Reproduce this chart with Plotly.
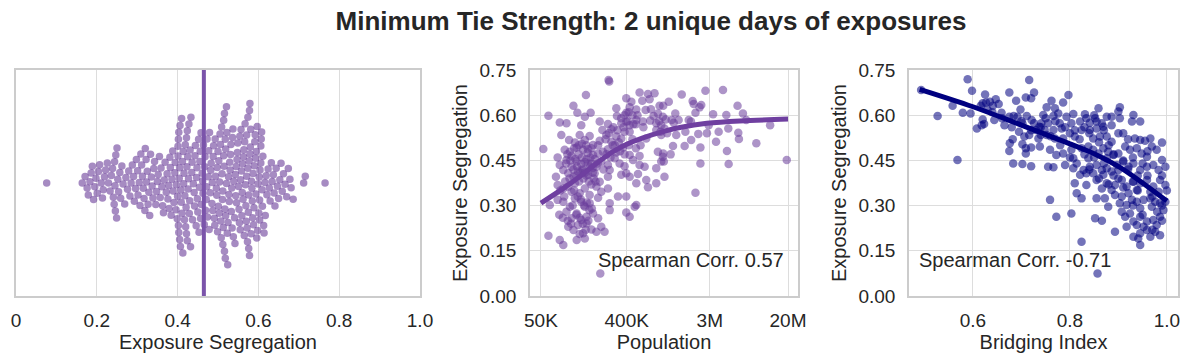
import numpy as np
import plotly.graph_objects as go

# Exposure segregation per city (left swarm panel)
SWARM_SEG = [
    0.076,
    0.164, 0.171, 0.176, 0.179,
    0.183, 0.186, 0.189, 0.192, 0.195, 0.198,
    0.201, 0.204, 0.207, 0.211, 0.214, 0.216, 0.219,
    0.222, 0.226, 0.229, 0.233, 0.236, 0.239,
    0.241, 0.243, 0.244, 0.245, 0.246, 0.247, 0.249, 0.250, 0.252, 0.254, 0.257, 0.259,
    0.262, 0.265, 0.269, 0.272, 0.276, 0.279,
    0.282, 0.285, 0.288, 0.291, 0.293, 0.296, 0.298,
    0.301, 0.302, 0.305, 0.307, 0.309, 0.311, 0.313, 0.315, 0.317, 0.319,
    0.320, 0.322, 0.323, 0.325, 0.327, 0.329, 0.331, 0.333, 0.335, 0.337, 0.339,
    0.341, 0.343, 0.346, 0.348, 0.350, 0.352, 0.355, 0.357, 0.359,
    0.361, 0.363, 0.365, 0.367, 0.369, 0.372, 0.374, 0.376, 0.378, 0.379,
    0.381, 0.382, 0.384, 0.386, 0.388, 0.389, 0.391, 0.393, 0.394, 0.396, 0.397, 0.399,
    0.400, 0.401, 0.401, 0.402, 0.402, 0.403, 0.403, 0.404, 0.405, 0.405, 0.406, 0.407,
    0.408, 0.409, 0.410, 0.411, 0.412, 0.413, 0.414, 0.415, 0.416, 0.417, 0.418, 0.419,
    0.420, 0.421, 0.422, 0.422, 0.423, 0.424, 0.424, 0.425, 0.426, 0.427, 0.428, 0.429,
    0.430, 0.431, 0.432, 0.433, 0.435, 0.436, 0.437, 0.439,
    0.441, 0.442, 0.443, 0.444, 0.446, 0.447, 0.448, 0.449, 0.450, 0.452, 0.453, 0.454,
    0.455, 0.456, 0.457, 0.458, 0.459,
    0.461, 0.462, 0.463, 0.464, 0.466, 0.467, 0.468, 0.469, 0.471, 0.472, 0.473, 0.474,
    0.476, 0.477, 0.478, 0.479,
    0.481, 0.482, 0.483, 0.485, 0.486, 0.487, 0.488, 0.489, 0.491, 0.492, 0.493, 0.494,
    0.496, 0.497, 0.498, 0.499,
    0.500, 0.501, 0.502, 0.503, 0.504, 0.505, 0.506, 0.507, 0.508, 0.509, 0.510, 0.511,
    0.512, 0.513, 0.514, 0.515, 0.516, 0.517, 0.518, 0.518, 0.519,
    0.512, 0.514, 0.516, 0.519, 0.521,
    0.521, 0.522, 0.523, 0.524, 0.525, 0.526, 0.527, 0.528, 0.529, 0.530, 0.531, 0.532,
    0.533, 0.534, 0.535, 0.536, 0.537, 0.538, 0.539,
    0.541, 0.542, 0.543, 0.544, 0.545, 0.546, 0.547, 0.548, 0.549, 0.551, 0.552, 0.553,
    0.554, 0.555, 0.556, 0.557, 0.558, 0.559,
    0.560, 0.561, 0.562, 0.563, 0.564, 0.565, 0.566, 0.567, 0.568, 0.569, 0.570, 0.571,
    0.572, 0.573, 0.574, 0.575, 0.576, 0.577, 0.578, 0.579, 0.579,
    0.571, 0.574, 0.576, 0.578, 0.580,
    0.581, 0.582, 0.583, 0.584, 0.585, 0.586, 0.587, 0.588, 0.589, 0.590, 0.591, 0.592,
    0.593, 0.594, 0.595, 0.596, 0.597, 0.598, 0.599,
    0.601, 0.602, 0.603, 0.604, 0.606, 0.607, 0.608, 0.610, 0.611, 0.613, 0.614, 0.616,
    0.617, 0.619, 0.603, 0.606, 0.609,
    0.621, 0.624, 0.627, 0.629, 0.632, 0.634, 0.637, 0.639,
    0.641, 0.644, 0.647, 0.650, 0.653, 0.656, 0.659,
    0.662, 0.666, 0.670, 0.674, 0.678,
    0.681, 0.686,
    0.712, 0.716,
    0.765,
]
MEAN_SEG = 0.465

# (population in thousands, exposure segregation)
POPULATION_POINTS = [
    (258, .717), (262, .712),
    (149, .667), (547, .675), (670, .670), (786, .673), (396, .656), (448, .645), (697, .653), (584, .648),
    (110, .631), (121, .608), (167, .608), (60, .598), (311, .623), (316, .597), (430, .626), (505, .619),
    (633, .617), (396, .608), (768, .597), (887, .631), (962, .595), (852, .606),
    (145, .595), (79, .576), (93, .573), (133, .567), (208, .579), (254, .571), (276, .553), (222, .551),
    (351, .573), (396, .579), (430, .567), (380, .545), (430, .545), (505, .584), (593, .579), (708, .582),
    (819, .573), (924, .567), (819, .551), (1000, .556),
    (82, .534), (99, .518), (114, .509), (128, .534), (145, .518), (163, .531), (177, .501), (208, .515),
    (244, .534), (311, .529), (351, .523), (276, .512), (643, .523), (924, .534),
    (53, .488), (75, .460), (89, .485), (101, .479), (119, .493), (139, .485), (157, .487), (177, .468),
    (200, .473), (225, .479), (254, .487), (311, .476), (365, .493), (430, .468), (547, .465), (852, .479),
    (962, .462),
    (79, .435), (93, .451), (105, .429), (119, .446), (133, .438), (151, .454), (170, .440), (192, .429),
    (216, .446), (254, .435), (299, .457), (337, .440), (380, .431), (466, .451), (547, .435), (618, .429),
    (819, .424), (924, .446),
    (72, .396), (86, .418), (97, .407), (110, .396), (123, .413), (139, .418), (157, .402), (184, .407),
    (208, .379), (254, .396), (265, .418), (351, .402), (396, .407), (430, .396), (526, .405), (505, .374),
    (643, .385), (819, .374), (1000, .396),
    (75, .368), (86, .357), (97, .363), (105, .346), (114, .374), (128, .341), (145, .357), (163, .335),
    (192, .363), (216, .346), (254, .357), (324, .330), (396, .330), (670, .361),
    (62, .302), (75, .319), (86, .313), (101, .296), (114, .324), (133, .313), (145, .296), (163, .308),
    (200, .326), (265, .308), (396, .277), (505, .302), (486, .296),
    (93, .280), (105, .258), (119, .274), (133, .252), (151, .263), (177, .274), (200, .258), (265, .285),
    (430, .263),
    (97, .230), (110, .219), (123, .236), (139, .208), (151, .241), (170, .221), (192, .213), (216, .230),
    (234, .213),
    (60, .200), (79, .186), (86, .169), (119, .186), (128, .206), (145, .191),
    (211, .075),
    (1520, .669), (2700, .681), (4130, .684), (1980, .647), (2030, .637), (2440, .634), (2340, .626),
    (1110, .645), (970, .631), (1300, .606), (2120, .608), (3250, .603), (4480, .601), (5880, .631),
    (6700, .606), (7260, .584), (12960, .567), (1190, .584), (1250, .575), (1410, .584), (1800, .584),
    (1900, .579), (1030, .586), (908, .545), (1067, .540), (1330, .534), (1660, .545), (2270, .538),
    (2800, .540), (2920, .567), (3720, .545), (4700, .556), (5990, .542), (6080, .521), (3490, .512),
    (9270, .507), (4550, .481), (2390, .493), (1910, .518), (1630, .498), (1230, .498), (1160, .470),
    (970, .473), (2390, .440), (4740, .438), (19390, .451), (2120, .343), (984, .446),
    (95, .47), (105, .465), (115, .455), (125, .47), (135, .46), (145, .445), (155, .475), (165, .43),
    (175, .425), (185, .455), (110, .42), (120, .43), (130, .41), (140, .39), (150, .40), (160, .38),
    (170, .37), (180, .39), (100, .39), (90, .38), (112, .35), (122, .33), (132, .32), (142, .30),
    (152, .31), (162, .285), (172, .29), (108, .30), (118, .27), (128, .26), (138, .24), (148, .22),
    (158, .25), (96, .25), (104, .24), (88, .33), (80, .35), (78, .27), (85, .26), (125, .50),
    (135, .505), (150, .50), (170, .49), (200, .50), (240, .52), (260, .54), (290, .56), (320, .55),
    (350, .59), (380, .60), (420, .61), (460, .60), (500, .57), (300, .50), (340, .48), (380, .47),
    (420, .50), (460, .52), (500, .49), (560, .50),
    (92, .44), (102, .45), (112, .49), (118, .40), (126, .38), (136, .42), (146, .41), (156, .44),
    (166, .46), (176, .41), (188, .38), (198, .44), (228, .42), (245, .47), (270, .46), (285, .50),
    (330, .51), (370, .56), (410, .58), (470, .57), (520, .60), (600, .56), (720, .62), (880, .58),
]
POP_TREND_K = [50, 86, 139, 192, 287, 396, 593, 1030, 1500, 2800, 6200, 20000]
POP_TREND_SEG = [0.308, 0.357, 0.405, 0.440, 0.479, 0.503, 0.525, 0.548, 0.560, 0.573, 0.581, 0.587]

# (bridging index, exposure segregation)
BRIDGING_POINTS = [
    (.493, .684), (.589, .719), (.598, .681), (.527, .597), (.558, .631), (.579, .608), (.595, .606),
    (.568, .451), (.625, .669), (.635, .645), (.647, .653), (.653, .637), (.641, .631), (.627, .642),
    (.616, .631), (.630, .619), (.659, .608), (.644, .584), (.620, .586), (.623, .571), (.608, .556),
    (.618, .567), (.665, .567), (.675, .675), (.689, .648), (.698, .619), (.684, .597), (.675, .595),
    (.692, .595), (.709, .659), (.716, .717), (.726, .675), (.720, .656), (.711, .597), (.721, .584),
    (.702, .573), (.695, .545), (.706, .529), (.716, .534), (.682, .520), (.676, .507), (.675, .481),
    (.702, .504), (.709, .490), (.720, .493), (.709, .473), (.702, .438), (.720, .431), (.726, .573),
    (.730, .551), (.735, .523), (.737, .562), (.740, .534), (.683, .440),
    (.797, .667), (.762, .648), (.786, .642), (.769, .623), (.752, .626), (.859, .623), (.903, .626),
    (.900, .612),
    (.745, .601), (.766, .597), (.776, .606), (.793, .595), (.807, .604), (.831, .603), (.834, .590),
    (.841, .575), (.852, .590), (.855, .579), (.866, .573), (.876, .595), (.886, .595), (.903, .590),
    (.931, .601), (.928, .579), (.945, .579), (.821, .579), (.803, .573), (.779, .573), (.755, .573),
    (.741, .573),
    (.748, .551), (.766, .551), (.783, .556), (.800, .540), (.810, .529), (.824, .551), (.841, .551),
    (.855, .556), (.869, .562), (.886, .567), (.848, .523), (.862, .529), (.876, .529), (.886, .512),
    (.900, .540), (.910, .540), (.934, .523), (.945, .518), (.955, .515), (.966, .523), (.990, .509),
    (.769, .523), (.786, .523), (.752, .534),
    (.738, .496), (.759, .485), (.772, .468), (.786, .473), (.803, .485), (.807, .457), (.824, .490),
    (.838, .496), (.848, .485), (.859, .473), (.869, .490), (.879, .479), (.890, .468), (.900, .473),
    (.914, .496), (.924, .485), (.938, .490), (.948, .473), (.959, .462), (.969, .496), (.979, .485),
    (.990, .451), (.876, .457), (.838, .457),
    (.755, .429), (.766, .427), (.790, .435), (.807, .424), (.814, .440), (.828, .418), (.841, .429),
    (.855, .435), (.866, .418), (.876, .424), (.886, .413), (.900, .418), (.910, .446), (.921, .429),
    (.931, .440), (.945, .418), (.959, .429), (.972, .435), (.983, .418), (.997, .429), (.897, .435),
    (.848, .407), (.834, .407), (.869, .402),
    (.810, .374), (.834, .368), (.855, .385), (.876, .374), (.893, .368), (.907, .385), (.917, .363),
    (.931, .379), (.945, .374), (.959, .385), (.972, .363), (.986, .385), (.997, .368), (.821, .402),
    (.866, .357), (.886, .352), (.938, .352), (.966, .346), (.983, .346), (.921, .341),
    (.814, .341), (.824, .324), (.855, .324), (.872, .324), (.879, .296), (.907, .330), (.903, .308),
    (.917, .302), (.938, .313), (.952, .319), (.966, .324), (.976, .313), (.986, .308), (.997, .313),
    (.945, .291), (.928, .319), (.893, .335), (.969, .296), (.759, .319),
    (.772, .263), (.803, .274), (.852, .258), (.866, .250), (.914, .263), (.924, .274), (.931, .247),
    (.945, .263), (.959, .247), (.972, .252), (.986, .263), (.993, .285), (.938, .236), (.952, .230),
    (.979, .236), (.907, .280),
    (.893, .213), (.824, .180), (.917, .230), (.941, .191), (.945, .169), (.959, .219), (.966, .197),
    (.976, .213), (.986, .202), (.945, .208), (.931, .197),
    (.857, .075),
    (.93, .46), (.95, .44), (.96, .40), (.94, .35), (.97, .33), (.99, .30), (.98, .28), (.95, .27),
    (.93, .30), (.91, .36), (.89, .40), (.87, .44), (.85, .46), (.83, .47), (.82, .52), (.84, .54),
    (.86, .51), (.88, .50), (.92, .52), (.96, .48), (.99, .40), (1.0, .35), (.99, .25), (.97, .22),
    (.94, .40), (.92, .42), (.90, .39), (.88, .37), (.86, .39), (.84, .42), (.80, .46), (.78, .50),
    (.76, .53), (.74, .56), (.72, .55), (.70, .58), (.68, .56), (.66, .59), (.64, .61), (.62, .64),
    (.75, .59), (.77, .58), (.79, .56), (.81, .55), (.83, .56), (.85, .60), (.87, .55), (.89, .47),
    (.91, .45), (.93, .38),
]
BRIDGE_TREND_X = [0.49, 0.60, 0.70, 0.80, 0.85, 0.90, 0.95, 1.00]
BRIDGE_TREND_SEG = [0.686, 0.628, 0.567, 0.505, 0.472, 0.430, 0.375, 0.315]

PURPLE = '#6a3d9a'
NAVY = '#000080'
TEXT = '#262626'
FONT = 'Liberation Sans, Arial, sans-serif'

W, H = 1194, 363


def swarm_offsets(values, px_per_unit, d):
    # simple beeswarm: place each point as close to centre as it can go
    vals = np.asarray(values, dtype=float)
    order = np.argsort(vals, kind='stable')
    placed = []
    out = np.zeros(len(vals))
    for i in order:
        x = vals[i] * px_per_unit
        near = [(px, py) for px, py in placed if abs(px - x) < d]
        cands = [0.0]
        for px, py in near:
            dy = np.sqrt(d * d - (px - x) ** 2)
            cands += [py + dy, py - dy]
        cands.sort(key=lambda c: (abs(c), -c))
        for c in cands:
            if all((px - x) ** 2 + (py - c) ** 2 >= d * d - 1e-6 for px, py in near):
                break
        out[i] = c
        placed.append((x, c))
    return out


def dom(px0, px1):
    return [px0 / W, px1 / W]


ydom = [1 - 296 / H, 1 - 70 / H]

swarm_y = swarm_offsets(SWARM_SEG, 404, 7.0)
pop_k, pop_seg = zip(*POPULATION_POINTS)
pop = [p * 1000 for p in pop_k]
bridge, bridge_seg = zip(*BRIDGING_POINTS)

fig = go.Figure()

fig.add_trace(go.Scatter(
    x=SWARM_SEG, y=swarm_y, mode='markers', xaxis='x', yaxis='y',
    marker=dict(size=7.5, color=PURPLE, opacity=0.6, line=dict(width=0)),
))
fig.add_trace(go.Scatter(
    x=pop, y=pop_seg, mode='markers', xaxis='x2', yaxis='y2',
    marker=dict(size=8.5, color=PURPLE, opacity=0.55, line=dict(width=0)),
))
fig.add_trace(go.Scatter(
    x=[p * 1000 for p in POP_TREND_K], y=POP_TREND_SEG, mode='lines', xaxis='x2', yaxis='y2',
    line=dict(color='#6f3fa0', width=5, shape='spline'),
))
fig.add_trace(go.Scatter(
    x=bridge, y=bridge_seg, mode='markers', xaxis='x3', yaxis='y3',
    marker=dict(size=8.5, color=NAVY, opacity=0.55, line=dict(width=0)),
))
fig.add_trace(go.Scatter(
    x=BRIDGE_TREND_X, y=BRIDGE_TREND_SEG, mode='lines', xaxis='x3', yaxis='y3',
    line=dict(color=NAVY, width=5, shape='spline'),
))

axis_style = dict(
    showline=True, mirror=True, linecolor='#cccccc', linewidth=1.5,
    showgrid=True, gridcolor='#dddddd', gridwidth=1, zeroline=False, ticks='',
    automargin=False,
    tickfont=dict(size=19, color=TEXT, family=FONT),
    title_font=dict(size=20, color=TEXT, family=FONT),
)
seg_ticks = [0, 0.15, 0.30, 0.45, 0.60, 0.75]

fig.update_layout(
    template='none',
    width=W, height=H, autosize=False,
    margin=dict(l=0, r=0, t=0, b=0, pad=0),
    paper_bgcolor='white', plot_bgcolor='white',
    showlegend=False,
    font=dict(family=FONT, color=TEXT),
    title=dict(text='<b>Minimum Tie Strength: 2 unique days of exposures</b>',
               x=651 / W, y=1 - 21 / H, xref='paper', yref='container',
               xanchor='center', yanchor='middle', automargin=False,
               font=dict(size=26, color=TEXT, family=FONT)),
    xaxis=dict(axis_style, domain=dom(16, 420), anchor='y', range=[0, 1],
               tickvals=[0, 0.2, 0.4, 0.6, 0.8, 1.0],
               ticktext=['0', '0.2', '0.4', '0.6', '0.8', '1.0'],
               ticklabelstandoff=6,
               title=dict(text='Exposure Segregation', standoff=4)),
    yaxis=dict(axis_style, domain=ydom, anchor='x', range=[-113, 113],
               showgrid=False, showticklabels=False),
    xaxis2=dict(axis_style, domain=dom(530, 798), anchor='y2', type='log',
                range=[4.584, 7.406],
                tickvals=[5e4, 4e5, 3e6, 2e7], ticktext=['50K', '400K', '3M', '20M'],
                ticklabelstandoff=6,
                title=dict(text='Population', standoff=4)),
    yaxis2=dict(axis_style, domain=ydom, anchor='x2', range=[0, 0.75],
                tickvals=seg_ticks, tickformat='.2f', ticklabelstandoff=8,
                title=dict(text='Exposure Segregation', standoff=6)),
    xaxis3=dict(axis_style, domain=dom(909, 1178), anchor='y3', range=[0.468, 1.023],
                tickvals=[0.6, 0.8, 1.0], ticktext=['0.6', '0.8', '1.0'],
                ticklabelstandoff=6,
                title=dict(text='Bridging Index', standoff=4)),
    yaxis3=dict(axis_style, domain=ydom, anchor='x3', range=[0, 0.75],
                tickvals=seg_ticks, tickformat='.2f', ticklabelstandoff=8,
                title=dict(text='Exposure Segregation', standoff=6)),
    shapes=[dict(type='line', xref='x', yref='y domain', x0=MEAN_SEG, x1=MEAN_SEG,
                 y0=0, y1=1, line=dict(color='#7b54aa', width=4), layer='above')],
    annotations=[
        dict(text='Spearman Corr. 0.57', xref='x2 domain', yref='y2 domain',
             x=0.955, y=0.159, xanchor='right', yanchor='middle', showarrow=False,
             font=dict(size=20, color=TEXT, family=FONT)),
        dict(text='Spearman Corr. -0.71', xref='x3 domain', yref='y3 domain',
             x=0.03, y=0.159, xanchor='left', yanchor='middle', showarrow=False,
             font=dict(size=20, color=TEXT, family=FONT)),
    ],
)

# the page body has a default 8px margin; drop it so the figure sits at the corner
fig.write_html('out.html', config={'displayModeBar': False},
               post_script="document.body.style.margin = '0';")
